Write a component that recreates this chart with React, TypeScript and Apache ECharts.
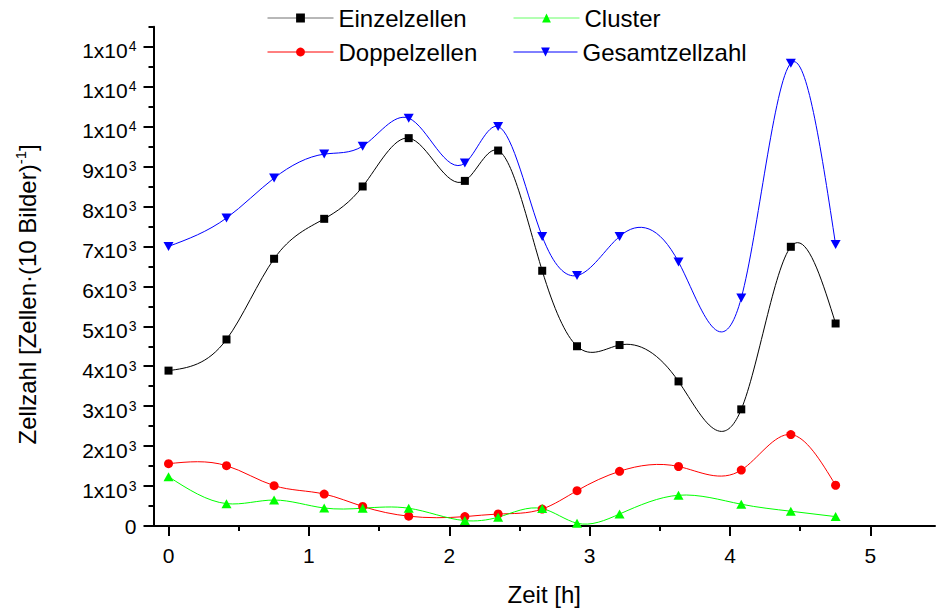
import React, { useEffect, useRef } from 'react';
import * as echarts from 'echarts';

// time in hours
const times = [0, 0.413, 0.752, 1.109, 1.383, 1.711, 2.111, 2.348, 2.662, 2.91, 3.213, 3.633, 4.08, 4.433, 4.752];
const einzelzellen = [3890, 4670, 6690, 7690, 8500, 9710, 8640, 9400, 6390, 4500, 4530, 3620, 2920, 6990, 5070];
const doppelzellen = [1560, 1510, 1010, 800, 490, 245, 235, 300, 425, 885, 1370, 1490, 1400, 2290, 1020];
const cluster = [1235, 560, 650, 450, 445, 445, 135, 220, 435, 70, 300, 770, 545, 370, 235];
const gesamtzellzahl = [7000, 7710, 8710, 9310, 9510, 10210, 9085, 10000, 7250, 6270, 7250, 6610, 5710, 11585, 7045];

const xTickValues = [0, 1, 2, 3, 4, 5];
const xMinorTickValues = [0.5, 1.5, 2.5, 3.5, 4.5];
const yTickValues = [0, 1000, 2000, 3000, 4000, 5000, 6000, 7000, 8000, 9000, 10000, 11000, 12000];
const yMinorTickValues = [500, 1500, 2500, 3500, 4500, 5500, 6500, 7500, 8500, 9500, 10500, 11500, 12500];

const FONT = '"Liberation Sans", Arial, Helvetica, sans-serif';

function yLabel(v: number): string {
  if (v === 0) return '{z|0}';
  const exp = v >= 10000 ? 4 : 3;
  const m = Math.round(v / Math.pow(10, exp));
  return `{b|${m}x10}{s|${exp}}`;
}

const toPairs = (vals: number[]) => times.map((t, i) => [t, vals[i]]);

// Slopes of a natural cubic spline through (xs, ys), used only to draw the
// connecting curve (Origin-style spline line) between the measured points.
function splineSlopes(xs: number[], ys: number[]): number[] {
  const n = xs.length;
  const h: number[] = [];
  for (let i = 0; i < n - 1; i++) h.push(xs[i + 1] - xs[i]);
  const a = new Array(n).fill(0);
  const b = new Array(n).fill(1);
  const c = new Array(n).fill(0);
  const r = new Array(n).fill(0);
  for (let i = 1; i < n - 1; i++) {
    a[i] = h[i - 1];
    b[i] = 2 * (h[i - 1] + h[i]);
    c[i] = h[i];
    r[i] = 6 * ((ys[i + 1] - ys[i]) / h[i] - (ys[i] - ys[i - 1]) / h[i - 1]);
  }
  const cp = new Array(n).fill(0);
  const rp = new Array(n).fill(0);
  cp[0] = c[0] / b[0];
  rp[0] = r[0] / b[0];
  for (let i = 1; i < n; i++) {
    const m = b[i] - a[i] * cp[i - 1];
    cp[i] = c[i] / m;
    rp[i] = (r[i] - a[i] * rp[i - 1]) / m;
  }
  const M = new Array(n).fill(0);
  M[n - 1] = rp[n - 1];
  for (let i = n - 2; i >= 0; i--) M[i] = rp[i] - cp[i] * M[i + 1];
  const d: number[] = [];
  for (let i = 0; i < n - 1; i++) {
    d.push((ys[i + 1] - ys[i]) / h[i] - (h[i] * (2 * M[i] + M[i + 1])) / 6);
  }
  d.push((ys[n - 1] - ys[n - 2]) / h[n - 2] + (h[n - 2] * (M[n - 2] + 2 * M[n - 1])) / 6);
  return d;
}

function curveSeries(vals: number[], color: string) {
  const d = splineSlopes(times, vals);
  return {
    type: 'custom',
    xAxisIndex: 0,
    yAxisIndex: 0,
    silent: true,
    clip: false,
    z: 1,
    data: toPairs(vals),
    renderItem: (params: any, api: any) => {
      const i = params.dataIndex;
      if (i >= times.length - 1) return { type: 'group', children: [] };
      const x0 = times[i];
      const x1 = times[i + 1];
      const hh = x1 - x0;
      const p0 = api.coord([x0, vals[i]]);
      const p1 = api.coord([x1, vals[i + 1]]);
      const c0 = api.coord([x0 + hh / 3, vals[i] + (d[i] * hh) / 3]);
      const c1 = api.coord([x1 - hh / 3, vals[i + 1] - (d[i + 1] * hh) / 3]);
      return {
        type: 'bezierCurve',
        shape: {
          x1: p0[0], y1: p0[1], x2: p1[0], y2: p1[1],
          cpx1: c0[0], cpy1: c0[1], cpx2: c1[0], cpy2: c1[1],
        },
        style: { stroke: color, fill: 'none', lineWidth: 1 },
      };
    },
  };
}

function markerSeries(name: string, vals: number[], color: string, symbol: string, size: any, rotate = 0) {
  return {
    type: 'line',
    name,
    xAxisIndex: 0,
    yAxisIndex: 0,
    data: toPairs(vals),
    clip: false,
    z: 3,
    symbol,
    symbolSize: size,
    symbolRotate: rotate,
    itemStyle: { color },
    lineStyle: { color, width: 1, opacity: 0 },
  };
}

export default function App() {
  const ref = useRef<HTMLDivElement>(null);
  useEffect(() => {
    if (!ref.current) return;
    const chart = echarts.init(ref.current, undefined, { renderer: 'svg' });
    const axisLineStyle = { color: '#000', width: 2 };
    const xMin = -0.107;
    const xMax = 5.46;
    const yMin = 0;
    const yMax = 12500;
    const legendText = { fontSize: 24, color: '#000', fontFamily: FONT };
    const legendBase = {
      orient: 'horizontal' as const,
      padding: 0,
      itemHeight: 11,
      itemWidth: 66,
      textStyle: legendText,
    };
    chart.setOption({
      animation: false,
      backgroundColor: '#fff',
      textStyle: { fontFamily: FONT },
      grid: { left: 152, top: 26.7, width: 783, height: 500, containLabel: false },
      legend: [
        { ...legendBase, data: ['Einzelzellen'], left: 267, top: 6, lineStyle: { color: '#707070', width: 1, opacity: 1 } },
        { ...legendBase, data: ['Cluster'], left: 513, top: 6, lineStyle: { color: '#66ff66', width: 1, opacity: 1 } },
        { ...legendBase, data: ['Doppelzellen'], left: 267, top: 40, lineStyle: { color: '#ff0000', width: 1, opacity: 1 } },
        { ...legendBase, data: ['Gesamtzellzahl'], left: 513, top: 40, itemWidth: 64, lineStyle: { color: '#0000ff', width: 1, opacity: 1 } },
      ],
      xAxis: [
        {
          type: 'value',
          position: 'bottom',
          min: xMin,
          max: xMax,
          axisLine: { show: true, onZero: false, lineStyle: axisLineStyle },
          axisTick: { show: true, customValues: xTickValues, length: 10, lineStyle: axisLineStyle },
          axisLabel: { show: true, customValues: xTickValues, margin: 19, fontSize: 21, color: '#000', fontFamily: FONT },
          splitLine: { show: false },
          name: 'Zeit [h]',
          nameLocation: 'middle',
          nameGap: 56,
          nameTextStyle: { fontSize: 24, color: '#000', fontFamily: FONT },
        },
        {
          type: 'value',
          position: 'bottom',
          min: xMin,
          max: xMax,
          axisLine: { show: false, onZero: false },
          axisTick: { show: true, customValues: xMinorTickValues, length: 5, lineStyle: axisLineStyle },
          axisLabel: { show: false },
          splitLine: { show: false },
        },
      ],
      yAxis: [
        {
          type: 'value',
          position: 'left',
          min: yMin,
          max: yMax,
          axisLine: { show: true, onZero: false, lineStyle: axisLineStyle },
          axisTick: { show: true, customValues: yTickValues, length: 10, lineStyle: axisLineStyle },
          axisLabel: {
            show: true,
            customValues: yTickValues,
            margin: 17,
            formatter: (v: number) => yLabel(v),
            rich: {
              z: { fontSize: 21, color: '#000', fontFamily: FONT },
              b: { fontSize: 21, lineHeight: 21, padding: [8, 0, 0, 0], color: '#000', fontFamily: FONT },
              s: { fontSize: 14, lineHeight: 14, padding: [3, 0, 0, 1], verticalAlign: 'top', color: '#000', fontFamily: FONT },
            },
          },
          splitLine: { show: false },
          name: '{n|Zellzahl [Zellen·(10 Bilder)}{s|-1}{n|]}',
          nameLocation: 'middle',
          nameRotate: 90,
          nameGap: 118,
          nameTextStyle: {
            padding: [0, 36, 0, 0],
            rich: {
              n: { fontSize: 24, lineHeight: 24, padding: [7, 0, 0, 0], color: '#000', fontFamily: FONT },
              s: { fontSize: 15, lineHeight: 15, padding: [1, 0, 0, 0], verticalAlign: 'top', color: '#000', fontFamily: FONT },
            },
          },
        },
        {
          type: 'value',
          position: 'left',
          min: yMin,
          max: yMax,
          axisLine: { show: false, onZero: false },
          axisTick: { show: true, customValues: yMinorTickValues, length: 5, lineStyle: axisLineStyle },
          axisLabel: { show: false },
          splitLine: { show: false },
        },
      ],
      series: [
        curveSeries(einzelzellen, '#000000'),
        curveSeries(doppelzellen, '#ff0000'),
        curveSeries(cluster, '#00ff00'),
        curveSeries(gesamtzellzahl, '#0000ff'),
        markerSeries('Einzelzellen', einzelzellen, '#000000', 'rect', 8),
        markerSeries('Doppelzellen', doppelzellen, '#ff0000', 'circle', 9),
        markerSeries('Cluster', cluster, '#00ff00', 'triangle', [10, 9]),
        markerSeries('Gesamtzellzahl', gesamtzellzahl, '#0000ff', 'triangle', [10, 9], 180),
      ],
    });
    return () => chart.dispose();
  }, []);
  return (
    <div
      ref={ref}
      style={{ position: 'fixed', left: 0, top: 0, width: 937, height: 611, background: '#fff' }}
    />
  );
}
